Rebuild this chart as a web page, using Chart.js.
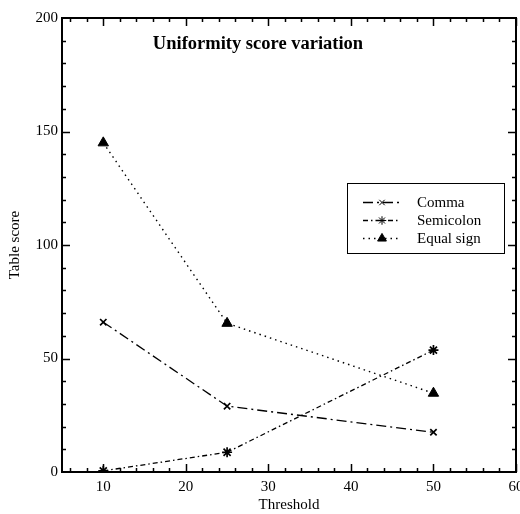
<!DOCTYPE html>
<html>
<head>
<meta charset="utf-8">
<script src="https://cdn.jsdelivr.net/npm/chart.js@4/dist/chart.umd.min.js"></script>
<style>
html,body{margin:0;padding:0;background:#fff;}
#wrap{width:520px;height:514px;}
</style>
</head>
<body>
<div id="wrap"><canvas id="c" width="520" height="514"></canvas></div>
<script>
const thresholds = [10, 25, 50];
const comma = [66, 29, 17.5];
const semicolon = [0.5, 8.7, 53.7];
const equalSign = [145, 65.5, 34.7];
const seriesNames = ['Comma', 'Semicolon', 'Equal sign'];
const xTickValues = [10, 20, 30, 40, 50, 60];
const yTickValues = [0, 50, 100, 150, 200];
const chartTitle = 'Uniformity score variation';

const FONT = "'Liberation Serif', 'DejaVu Serif', serif";

function pts(ys){ return thresholds.map((x,i)=>({x:x,y:ys[i]})); }

const datasets = [
  {label: seriesNames[0], data: pts(comma), borderDash:[10,4,2,4], pointStyle:'crossRot', pointRadius:4.5, borderWidth:1.3, pointBorderWidth:1.7},
  {label: seriesNames[1], data: pts(semicolon), borderDash:[5,3,1.5,3], pointStyle:'star', pointRadius:5, borderWidth:1.3, pointBorderWidth:1.7},
  {label: seriesNames[2], data: pts(equalSign), borderDash:[1.5,4], pointStyle:'triangle', pointRadius:6, borderWidth:1.4, pointBorderWidth:1}
].map(d => Object.assign({borderColor:'#000', backgroundColor:'#000', pointBackgroundColor:'#000', pointBorderColor:'#000', fill:false, tension:0}, d));

const framePlugin = {
  id: 'frame',
  afterDraw(chart){
    const {ctx, chartArea:a, scales:{x, y}} = chart;
    ctx.save();
    ctx.strokeStyle = '#000';
    ctx.fillStyle = '#000';
    // ticks
    ctx.lineWidth = 1.5;
    ctx.beginPath();
    for (let v = 6; v <= 60; v += 2){
      const px = Math.round(x.getPixelForValue(v)) + 0.5;
      const len = (v % 10 === 0) ? 8 : 4;
      ctx.moveTo(px, a.bottom); ctx.lineTo(px, a.bottom - len);
      ctx.moveTo(px, a.top); ctx.lineTo(px, a.top + len);
    }
    for (let v = 10; v <= 190; v += 10){
      const py = Math.round(y.getPixelForValue(v)) + 0.5;
      const len = (v % 50 === 0) ? 8 : 4;
      ctx.moveTo(a.left, py); ctx.lineTo(a.left + len, py);
      ctx.moveTo(a.right, py); ctx.lineTo(a.right - len, py);
    }
    ctx.stroke();
    // box
    ctx.lineWidth = 2;
    ctx.strokeRect(a.left, a.top, a.right - a.left, a.bottom - a.top);
    // title
    ctx.font = "bold 18.5px " + FONT;
    ctx.textAlign = 'center';
    ctx.textBaseline = 'middle';
    ctx.fillText(chartTitle, 258, 44);
    // legend
    const lx = 347, ly = 183, lw = 157, lh = 70;
    ctx.lineWidth = 1;
    ctx.strokeRect(lx + 0.5, ly + 0.5, lw, lh);
    const rows = [202, 220, 238];
    chart.data.datasets.forEach((d, i) => {
      const ry = rows[i] + 0.5;
      ctx.save();
      ctx.lineWidth = d.borderWidth;
      ctx.setLineDash(d.borderDash);
      ctx.beginPath(); ctx.moveTo(363, ry); ctx.lineTo(400, ry); ctx.stroke();
      ctx.restore();
      ctx.save();
      ctx.fillStyle = '#000'; ctx.strokeStyle = '#000';
      Chart.helpers.drawPoint(ctx, {pointStyle: d.pointStyle, radius: d.pointRadius * 0.85, borderWidth: d.pointBorderWidth, rotation: 0}, 382, ry);
      ctx.restore();
      ctx.fillStyle = '#000';
      ctx.font = "15px " + FONT;
      ctx.textAlign = 'left';
      ctx.textBaseline = 'middle';
      ctx.fillText(d.label, 417, rows[i] + 1);
    });
    ctx.restore();
  }
};

const zeroPad = () => ({left: 0, top: 0, right: 0, bottom: 0});

new Chart(document.getElementById('c'), {
  type: 'line',
  data: { datasets: datasets },
  options: {
    responsive: false,
    animation: false,
    devicePixelRatio: 1,
    layout: { autoPadding: false, padding: { top: 18, right: 4, left: 0, bottom: 0 } },
    plugins: { legend: { display: false }, tooltip: { enabled: false }, title: { display: false } },
    scales: {
      x: {
        type: 'linear', min: 5, max: 60,
        grid: { display: false, drawTicks: false },
        border: { display: false },
        ticks: { stepSize: 10, includeBounds: false, padding: 6, color: '#000', font: { family: FONT, size: 15 }, maxRotation: 0 },
        title: { display: true, text: 'Threshold', color: '#000', font: { family: FONT, size: 15 }, padding: { top: 0, bottom: 0 } },
        afterFit(s){ s.height = 42; s.paddingLeft = 0; s.paddingRight = 0; s.getPadding = zeroPad; },
        afterBuildTicks(s){ s.ticks = xTickValues.map(v => ({value: v})); }
      },
      y: {
        type: 'linear', min: 0, max: 200,
        grid: { display: false, drawTicks: false },
        border: { display: false },
        ticks: { stepSize: 50, padding: 4, color: '#000', font: { family: FONT, size: 15 } },
        title: { display: true, text: 'Table score', color: '#000', font: { family: FONT, size: 15 }, padding: { top: 6, bottom: 6 } },
        afterFit(s){ s.width = 62; s.paddingTop = 0; s.paddingBottom = 0; s.getPadding = zeroPad; },
        afterBuildTicks(s){ s.ticks = yTickValues.map(v => ({value: v})); }
      }
    }
  },
  plugins: [framePlugin]
});
</script>
</body>
</html>
